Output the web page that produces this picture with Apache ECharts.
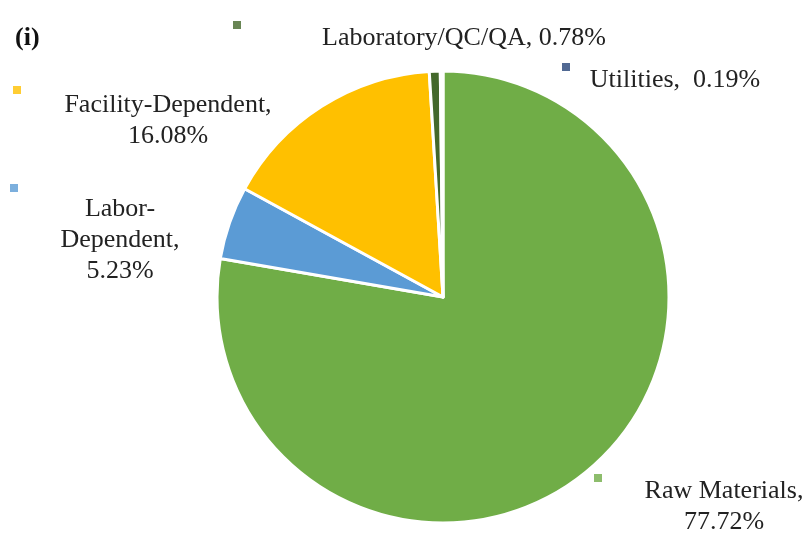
<!DOCTYPE html>
<html>
<head>
<meta charset="utf-8">
<script src="https://cdn.jsdelivr.net/npm/echarts@6/dist/echarts.min.js"></script>
<style>
  html, body { margin: 0; padding: 0; background: #ffffff; }
  #chart { width: 812px; height: 535px; }
</style>
</head>
<body>
<div id="chart"></div>
<script>
// Cost categories, listed clockwise from 12 o'clock
const categories = ['Raw Materials', 'Labor-Dependent', 'Facility-Dependent', 'Laboratory/QC/QA', 'Utilities'];
// Share of total cost (%)
const shares = [77.72, 5.23, 16.08, 0.78, 0.19];
// Label text (name part), with the line breaks used on the chart
const labelNames = ['Raw Materials,', 'Labor-\nDependent,', 'Facility-Dependent,', 'Laboratory/QC/QA,', 'Utilities,'];
// Separator between name and percentage
const separators = ['\n', '\n', '\n', ' ', '  '];

const colors = ['#70ad47', '#5b9bd5', '#ffc000', '#43682b', '#264478'];

// Label anchor points (centre of each text block) and key-square positions
const labelAnchors = [[724, 507], [120, 240], [168, 121], [464, 38], [675, 80]];
const keySquares = [[598, 478], [14, 188], [17, 90], [237, 25], [566, 67]];

const FONT = '"Liberation Serif", "Times New Roman", serif';

const chart = echarts.init(document.getElementById('chart'), null, { renderer: 'canvas' });

const data = categories.map((name, i) => ({
  name: name,
  value: shares[i],
  itemStyle: { color: colors[i] }
}));

chart.setOption({
  animation: false,
  title: {
    text: '(i)',
    left: 10,
    top: 20,
    textStyle: { fontFamily: FONT, fontSize: 26, fontWeight: 'bold', color: '#111' }
  },
  graphic: keySquares.map((p, i) => ({
    type: 'rect',
    shape: { x: p[0] - 4, y: p[1] - 4, width: 8, height: 8 },
    style: { fill: colors[i], opacity: 0.8 }
  })),
  series: [{
    type: 'pie',
    center: [443, 297],
    radius: 226,
    startAngle: 90,
    clockwise: true,
    avoidLabelOverlap: false,
    itemStyle: { borderColor: '#ffffff', borderWidth: 3 },
    label: {
      show: true,
      fontFamily: FONT,
      fontSize: 26,
      lineHeight: 31,
      color: '#222222',
      align: 'center',
      formatter: (p) => labelNames[p.dataIndex] + separators[p.dataIndex] + p.value.toFixed(2) + '%'
    },
    labelLine: { show: false },
    labelLayout: (params) => {
      const a = labelAnchors[params.dataIndex];
      return { x: a[0], y: a[1], align: 'center', verticalAlign: 'middle' };
    },
    emphasis: { disabled: true },
    data: data
  }]
});
</script>
</body>
</html>
